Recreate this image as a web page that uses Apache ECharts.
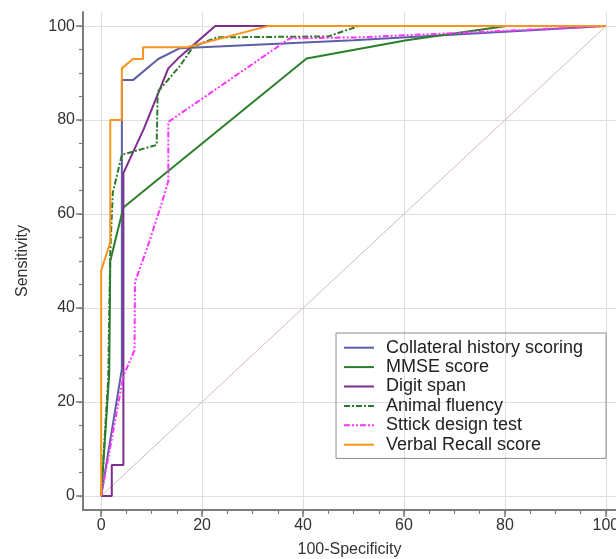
<!DOCTYPE html>
<html>
<head>
<meta charset="utf-8">
<style>
  html, body { margin: 0; padding: 0; background: #fff; }
  #chart { width: 616px; height: 559px; }
</style>
<script src="https://cdn.jsdelivr.net/npm/echarts@6/dist/echarts.min.js"></script>
</head>
<body>
<div id="chart"></div>
<script>
// ===== Data =====
const seriesNames = [
  'Collateral history scoring',
  'MMSE score',
  'Digit span',
  'Animal fluency',
  'Sttick design test',
  'Verbal Recall score'
];

// [100-Specificity, Sensitivity]
const collateralHistory = [[0, 0], [4.1, 27], [4.1, 88.5], [6.3, 88.5], [11.3, 93], [15.6, 95.3], [50, 97], [80, 98.8], [100, 100]];
const mmseScore = [[0, 0], [1.6, 26], [1.8, 50], [4.4, 61.4], [40.7, 93.1], [60.5, 97], [80.3, 100], [100, 100]];
const digitSpan = [[0, 0], [2.1, 0], [2.1, 6.6], [4.4, 6.6], [4.4, 68.7], [8.4, 78], [13.3, 91], [15.6, 93.5], [22.6, 100], [100, 100]];
const animalFluency = [[0, 0], [1.4, 25], [1.8, 52], [2.3, 64.5], [4.1, 72.6], [11, 74.7], [11.2, 86], [15.6, 91.5], [18.2, 95.6], [22.9, 97.6], [45, 97.8], [51, 100], [100, 100]];
const stickDesign = [[0, 0], [4.4, 25.5], [6.6, 31], [6.7, 45.5], [9.5, 54], [12, 62.3], [13.3, 67], [13.3, 79.6], [37.4, 97.4], [51, 97.6], [76, 98.8], [100, 100]];
const verbalRecall = [[0, 0], [0, 48], [1.8, 54], [1.8, 80], [4.1, 80], [4.1, 91], [6.3, 93], [8.3, 93], [8.3, 95.5], [17, 95.5], [33, 100], [100, 100]];
const referenceLine = [[0, 0], [100, 100]];

const majorTicks = [0, 20, 40, 60, 80, 100];
const minorTicks = [0, 5, 10, 15, 20, 25, 30, 35, 40, 45, 50, 55, 60, 65, 70, 75, 80, 85, 90, 95, 100];

// ===== Style =====
const FONT = '"Liberation Sans", Arial, sans-serif';
const AXIS_COLOR = '#7d7d7d';
const GRID_COLOR = '#dedede';

// major axis: line, long ticks, labels, grid lines
function majorAxis(min, max, extra) {
  return Object.assign({
    type: 'value', min: min, max: max,
    axisLine: { show: true, onZero: false, lineStyle: { color: AXIS_COLOR, width: 2 } },
    axisTick: { show: true, customValues: majorTicks, length: 7, lineStyle: { color: AXIS_COLOR, width: 1.5 } },
    axisLabel: { customValues: majorTicks, margin: 8, fontSize: 16, color: '#333', fontFamily: FONT },
    splitLine: { show: true, lineStyle: { color: GRID_COLOR, width: 1 } },
    nameLocation: 'middle',
    nameTextStyle: { fontSize: 16, color: '#333', fontFamily: FONT }
  }, extra);
}

// minor axis: only the short ticks every 5
function minorAxis(min, max, extra) {
  return Object.assign({
    type: 'value', min: min, max: max,
    axisLine: { show: false, onZero: false },
    axisTick: { show: true, customValues: minorTicks, length: 4, lineStyle: { color: AXIS_COLOR, width: 1.2 } },
    axisLabel: { show: false },
    splitLine: { show: false }
  }, extra);
}

function curve(name, data, color, type) {
  return {
    name: name, type: 'line', data: data,
    symbol: 'none', silent: true,
    lineStyle: { color: color, width: 2, type: type || 'solid' },
    itemStyle: { color: color }
  };
}

// ===== Chart =====
const chart = echarts.init(document.getElementById('chart'), null, { renderer: 'canvas' });

chart.setOption({
  animation: false,
  backgroundColor: '#ffffff',
  grid: { left: 83, right: 0, top: 12, bottom: 49, containLabel: false, outerBoundsMode: 'none' },
  xAxis: [
    majorAxis(-3.6, 102, { position: 'bottom', name: '100-Specificity', nameGap: 32 }),
    minorAxis(-3.6, 102, { position: 'bottom' })
  ],
  yAxis: [
    majorAxis(-3, 103, { position: 'left', name: 'Sensitivity', nameGap: 52, nameRotate: 90 }),
    minorAxis(-3, 103, { position: 'left' })
  ],
  legend: {
    data: seriesNames,
    orient: 'vertical',
    left: 336, top: 333,
    itemWidth: 30, itemHeight: 14, itemGap: 0,
    padding: [5, 23, 4, 7],
    borderColor: '#8c8c8c', borderWidth: 1,
    selectedMode: false,
    // hide the circle marker, keep only the line sample
    itemStyle: { color: 'rgba(0,0,0,0)', borderColor: 'rgba(0,0,0,0)', borderWidth: 0, opacity: 0 },
    textStyle: { fontSize: 18, lineHeight: 19.4, color: '#222', fontFamily: FONT, padding: [0, 0, 0, 7] }
  },
  series: [
    {
      name: 'reference', type: 'line', data: referenceLine,
      symbol: 'none', silent: true, z: 1,
      lineStyle: { color: '#d6b9b9', width: 1 }
    },
    curve(seriesNames[0], collateralHistory, '#5d5fa6'),
    curve(seriesNames[1], mmseScore, '#2b7f2b'),
    curve(seriesNames[2], digitSpan, '#7e2d8e'),
    curve(seriesNames[3], animalFluency, '#2b7a2b', [6, 2, 2, 2]),
    curve(seriesNames[4], stickDesign, '#ff33ff', [6, 2, 2, 2, 2, 2]),
    curve(seriesNames[5], verbalRecall, '#f7941d')
  ]
});
</script>
</body>
</html>
